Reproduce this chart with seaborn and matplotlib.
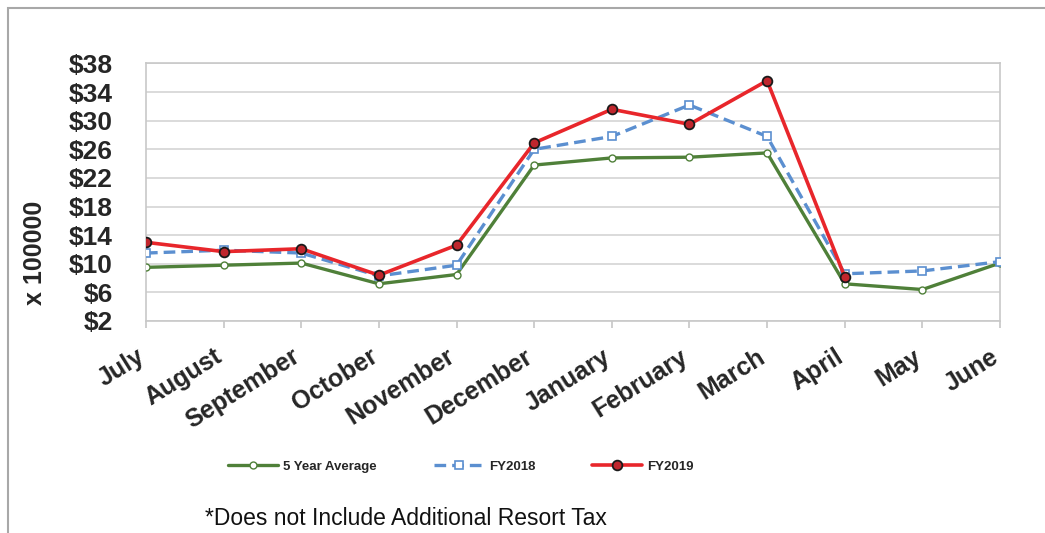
import numpy as np
import matplotlib
matplotlib.use("Agg")
import matplotlib.pyplot as plt
import seaborn as sns
from matplotlib.patches import Rectangle

# === DATOS ===
months = ["July", "August", "September", "October", "November", "December",
          "January", "February", "March", "April", "May", "June"]
avg_5yr = [9.5, 9.8, 10.1, 7.2, 8.5, 23.8, 24.8, 24.9, 25.5, 7.2, 6.4, 10.1]
fy2018 = [11.5, 11.9, 11.5, 8.3, 9.8, 26.0, 27.8, 32.2, 27.8, 8.6, 9.0, 10.3]
fy2019 = [13.0, 11.7, 12.1, 8.4, 12.6, 26.9, 31.6, 29.5, 35.6, 8.2, np.nan, np.nan]
y_ticks = [2, 6, 10, 14, 18, 22, 26, 30, 34, 38]

# === ESTILO ===
sns.set_theme(style="white")
plt.rcParams["font.family"] = ["Liberation Sans", "DejaVu Sans"]

fig = plt.figure(figsize=(10.45, 5.33), dpi=100)
ax = fig.add_axes([146 / 1045, 1 - 321 / 533, (1000 - 146) / 1045, (321 - 63.5) / 533])

x = np.arange(len(months))

sns.lineplot(x=x, y=avg_5yr, ax=ax, color="#4f8039", linewidth=2.4,
             marker="o", markersize=5, markerfacecolor="white",
             markeredgecolor="#4f8039", markeredgewidth=1.0,
             label="5 Year Average", zorder=3)
sns.lineplot(x=x, y=fy2018, ax=ax, color="#5b8fd0", linewidth=2.4,
             linestyle=(0, (3.5, 1.8)), marker="s", markersize=6,
             markerfacecolor="white", markeredgecolor="#5b8fd0",
             markeredgewidth=1.2, label="FY2018", zorder=4)
sns.lineplot(x=x, y=fy2019, ax=ax, color="#e8262b", linewidth=2.6,
             marker="o", markersize=7, markerfacecolor="#c0262d",
             markeredgecolor="#1a1a1a", markeredgewidth=1.3,
             label="FY2019", zorder=5)

ax.set_xlim(0, len(months) - 1)
ax.set_ylim(2, 38)
ax.set_yticks(y_ticks)
ax.set_yticklabels([f"${v}" for v in y_ticks], fontsize=19, fontweight="bold")
ax.set_xticks(x)
ax.set_xticklabels(months, fontsize=18, fontweight="bold", rotation=32,
                   ha="right", va="baseline", rotation_mode="anchor")
ax.tick_params(axis="x", length=5, color="#c8c8c8", direction="out", pad=23.5, bottom=True)
ax.tick_params(axis="y", length=0, pad=24)
ax.yaxis.grid(True, color="#d4d4d4", linewidth=1.2)
for s in ax.spines.values():
    s.set_color("#c8c8c8")
    s.set_linewidth(1.2)

ax.set_ylabel("x 100000", fontsize=18, fontweight="bold")
ax.yaxis.set_label_coords(-0.116, 0.264)
ax.set_xlabel("")

# leyenda abajo
ax.legend_.remove()
h, l = ax.get_legend_handles_labels()
fig.legend(h, l, loc="center", bbox_to_anchor=(0.441, 0.124), ncol=3,
           frameon=False, prop={"weight": "bold", "size": 9.5},
           handlelength=3.8, columnspacing=4.3, handletextpad=0.4)

fig.text(0.196, 0.027, "*Does not Include Additional Resort Tax", fontsize=16.5,
         ha="left", va="center", color="#111111")

# marco exterior
fig.patches.append(Rectangle((8 / 1045, -0.1), 1.2, 1 - 8 / 533 + 0.1,
                             transform=fig.transFigure, fill=False,
                             edgecolor="#a8a8a8", linewidth=1.5))

fig.savefig("out.png", dpi=100)
